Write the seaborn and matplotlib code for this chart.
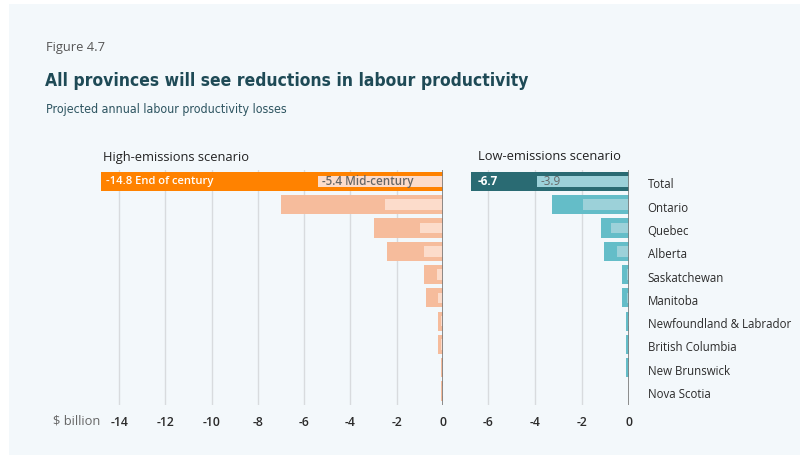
import pandas as pd
import matplotlib.pyplot as plt
import seaborn as sns
from matplotlib.patches import Rectangle
from matplotlib.transforms import ScaledTranslation
from matplotlib import font_manager

provinces = ["Total", "Ontario", "Quebec", "Alberta", "Saskatchewan", "Manitoba",
             "Newfoundland & Labrador", "British Columbia", "New Brunswick", "Nova Scotia"]
high_end = [-14.8, -7.0, -3.0, -2.4, -0.83, -0.72, -0.22, -0.22, -0.1, -0.1]
high_mid = [-5.4, -2.5, -1.0, -0.8, -0.27, -0.2, -0.1, -0.1, -0.05, -0.05]
low_end = [-6.7, -3.3, -1.2, -1.07, -0.32, -0.32, -0.14, -0.14, -0.14, -0.03]
low_mid = [-3.9, -1.95, -0.78, -0.53, -0.1, -0.1, -0.05, -0.05, -0.05, -0.02]

df = pd.DataFrame({"province": provinces, "high_end": high_end, "high_mid": high_mid,
                   "low_end": low_end, "low_mid": low_mid})

BG = "#F3F8FB"
sns.set_theme(style="white")
plt.rcParams["font.family"] = ["Open Sans", "DejaVu Sans"]
plt.rcParams["axes.unicode_minus"] = False

# a narrow face for the headline, if one is around
cond = [f for f in font_manager.fontManager.ttflist if "Condensed" in f.fname or "Narrow" in f.fname]
if cond:
    title_kw = dict(family=cond[0].name, stretch="condensed", size=12.5)
    sub_kw = dict(family=cond[0].name, stretch="condensed", size=8.9)
else:
    title_kw = dict(family="Roboto", size=12.5)
    sub_kw = dict(family="Roboto", size=9)

fig = plt.figure(figsize=(8.04, 4.59), dpi=100)
fig.patch.set_facecolor("white")
fig.patches.append(Rectangle((9 / 804, 4 / 459), 791 / 804, 451 / 459, transform=fig.transFigure,
                             facecolor=BG, edgecolor="none", zorder=-10))

ax1 = fig.add_axes([96 / 804, 54 / 459, 347 / 804, 235 / 459])
ax2 = fig.add_axes([469 / 804, 54 / 459, 160.5 / 804, 235 / 459])

high_end_cols = ["#FF8200"] + ["#F6BC9C"] * 9
high_mid_cols = ["#FCDCCB"] * 10
low_end_cols = ["#2A6B73"] + ["#64BDC8"] * 9
low_mid_cols = ["#9CD1D9"] * 10

for ax, end, mid, ec, mc in [(ax1, "high_end", "high_mid", high_end_cols, high_mid_cols),
                             (ax2, "low_end", "low_mid", low_end_cols, low_mid_cols)]:
    ax.set_facecolor("none")
    sns.barplot(data=df, x=end, y="province", hue="province", palette=ec, legend=False,
                orient="h", width=0.82, saturation=1, linewidth=0, ax=ax, zorder=3)
    sns.barplot(data=df, x=mid, y="province", hue="province", palette=mc, legend=False,
                orient="h", width=0.45, saturation=1, linewidth=0, ax=ax, zorder=4)
    ax.set_ylim(9.6, -0.49)
    ax.grid(axis="x", color="#D8DBDE", lw=1, zorder=0)
    ax.axvline(0, color="#7A7A7A", lw=1.2, zorder=5)
    for s in ax.spines.values():
        s.set_visible(False)
    ax.set_xlabel("")
    ax.set_ylabel("")
    ax.tick_params(axis="both", length=0)
    ax.tick_params(axis="x", labelsize=8.8, colors="#2B2B2B", pad=8)

ax1.set_xlim(-15, 0)
ax1.set_xticks(range(-14, 1, 2))
ax1.set_yticks([])
ax2.set_xlim(-6.8, 0)
ax2.set_xticks(range(-6, 1, 2))
for ax in (ax1, ax2):
    for lbl in ax.get_xticklabels():
        lbl.set_weight("semibold")
ax2.yaxis.tick_right()
ax2.set_yticks(range(10))
ax2.set_yticklabels(provinces)
ax2.tick_params(axis="y", labelsize=8.3, colors="#2B2B2B", pad=13)
# province names sit a few pixels below the bar centres
nudge = ScaledTranslation(0, -3.5 / 100, fig.dpi_scale_trans)
for lbl in ax2.get_yticklabels():
    lbl.set_va("center")
    lbl.set_weight("medium")
    lbl.set_transform(lbl.get_transform() + nudge)

ax1.text(-14.55, 0, f"{high_end[0]:.1f} End of century", color="white", fontsize=8.1,
         weight="semibold", va="center", zorder=6)
ax1.text(high_mid[0] + 0.15, 0, f"{high_mid[0]:.1f} Mid-century", color="#666666", fontsize=8.4,
         weight="semibold", va="center", zorder=6)
ax2.text(low_end[0] + 0.25, 0, f"{low_end[0]:.1f}", color="white", fontsize=8.4,
         weight="bold", va="center", zorder=6)
ax2.text(low_mid[0] + 0.15, 0, f"{low_mid[0]:.1f}", color="#666666", fontsize=8.4,
         va="center", zorder=6)

fig.text(103 / 804, 1 - 157 / 459, "High-emissions scenario", fontsize=9.3, color="#222222",
         weight="medium", va="center")
fig.text(478 / 804, 1 - 157 / 459, "Low-emissions scenario", fontsize=9.3, color="#222222",
         weight="medium", va="center")
fig.text(53 / 804, 1 - 421 / 459, "$ billion", fontsize=9.3, color="#666666", va="center")

fig.text(46 / 804, 1 - 48 / 459, "Figure 4.7", fontsize=9.3, color="#555555", va="center")
fig.text(45 / 804, 1 - 81 / 459, "All provinces will see reductions in labour productivity",
         color="#1E4A56", weight="bold", va="center", **title_kw)
fig.text(46 / 804, 1 - 109 / 459, "Projected annual labour productivity losses",
         color="#2E5561", va="center", **sub_kw)

fig.savefig("out.png", dpi=100, facecolor=fig.get_facecolor())
